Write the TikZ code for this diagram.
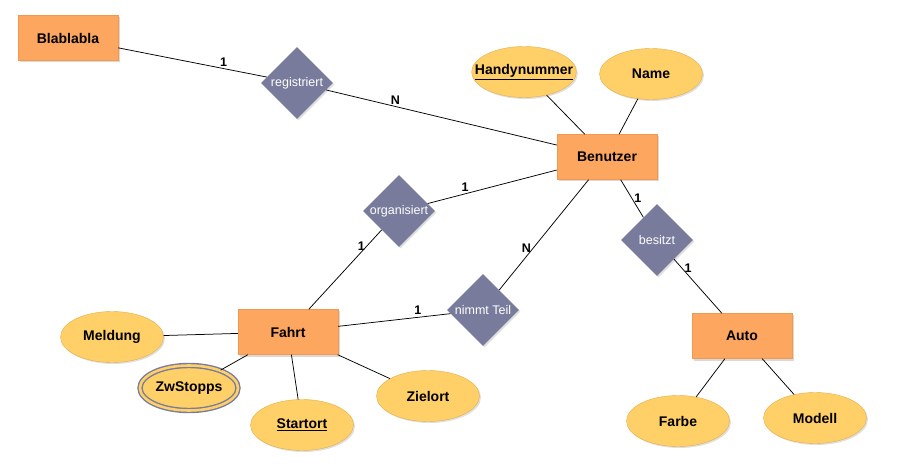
\documentclass[tikz,border=0pt]{standalone}
\usepackage{fontspec}
\setmainfont{Liberation Sans}
\usetikzlibrary{shapes.geometric,shadows}

\definecolor{entfill}{HTML}{FDA65F}
\definecolor{entline}{HTML}{F3994F}
\definecolor{attfill}{HTML}{FFCF68}
\definecolor{attline}{HTML}{E2AE4A}
\definecolor{relfill}{HTML}{787B9B}

\begin{document}
\begin{tikzpicture}[x=1pt, y=-1pt]
% ER style
\tikzset{
    entity/.style={rectangle, fill=entfill, draw=entline, minimum width=100pt, minimum height=45pt,
        font=\fontsize{14}{16}\selectfont\bfseries,
        drop shadow={opacity=0.3, shadow xshift=2pt, shadow yshift=-2pt}},
    attribute/.style={ellipse, fill=attfill, draw=attline, minimum width=103pt, minimum height=51pt,
        inner xsep=-12pt, inner ysep=0pt,
        font=\fontsize{14}{16}\selectfont\bfseries,
        drop shadow={opacity=0.25, shadow xshift=1.5pt, shadow yshift=-1.5pt}},
    multiattr/.style={attribute, draw=relfill, line width=1.4pt, double=attfill, double distance=2.6pt,
        minimum width=98pt, minimum height=45pt},
    relation/.style={diamond, aspect=1, fill=relfill, minimum width=72pt, minimum height=72pt, inner sep=0pt,
        text=white, font=\fontsize{12.5}{14}\selectfont,
        drop shadow={opacity=0.25, shadow xshift=1.5pt, shadow yshift=-1.5pt}},
    conn/.style={draw=black, line width=0.75pt},
    card/.style={font=\fontsize{12.5}{14}\selectfont\bfseries, inner sep=2pt}
}
\useasboundingbox (0, 0) rectangle (903, 473);

% Nodes
\node[entity] (BLA) at (68, 38) {Blablabla};
\node[entity] (BEN) at (607, 157) {Benutzer};
\node[entity] (FAHRT) at (288, 332) {Fahrt};
\node[entity] (AUTO) at (742, 336) {Auto};

\node[relation] (REG) at (297, 83) {registriert};
\node[relation] (ORG) at (399, 211) {organisiert};
\node[relation] (TEIL) at (483, 310) {nimmt Teil};
\node[relation] (BES) at (657, 240) {besitzt};

\node[attribute] (HANDY) at (524, 72) {\underline{Handynummer}};
\node[attribute] (NAME) at (651, 74) {Name};
\node[attribute] (MELD) at (112, 337) {Meldung};
\node[multiattr] (ZW) at (189, 388) {ZwStopps};
\node[attribute] (START) at (302, 425) {\underline{Startort}};
\node[attribute] (ZIEL) at (428, 396) {Zielort};
\node[attribute] (FARBE) at (678, 421) {Farbe};
\node[attribute] (MODELL) at (815, 418) {Modell};

% Connections
\draw[conn] (BLA) -- (REG) node[card, pos=0.71, above] {1};
\draw[conn] (REG) -- (BEN) node[card, pos=0.3, above] {N};
\draw[conn] (BEN) -- (ORG) node[card, pos=0.71, above] {1};
\draw[conn] (ORG) -- (FAHRT) node[card, pos=0.2, left] {1};
\draw[conn] (BEN) -- (TEIL) node[card, pos=0.62, left] {N};
\draw[conn] (FAHRT) -- (TEIL) node[card, pos=0.71, above] {1};
\draw[conn] (BEN) -- (BES) node[card, pos=0.5, right] {1};
\draw[conn] (BES) -- (AUTO) node[card, pos=0.17, right] {1};

\draw[conn] (HANDY) -- (BEN);
\draw[conn] (NAME) -- (BEN);
\draw[conn] (MELD) -- (FAHRT);
\draw[conn] (ZW) -- (FAHRT);
\draw[conn] (START) -- (FAHRT);
\draw[conn] (ZIEL) -- (FAHRT);
\draw[conn] (FARBE) -- (AUTO);
\draw[conn] (MODELL) -- (AUTO);
\end{tikzpicture}
\end{document}
